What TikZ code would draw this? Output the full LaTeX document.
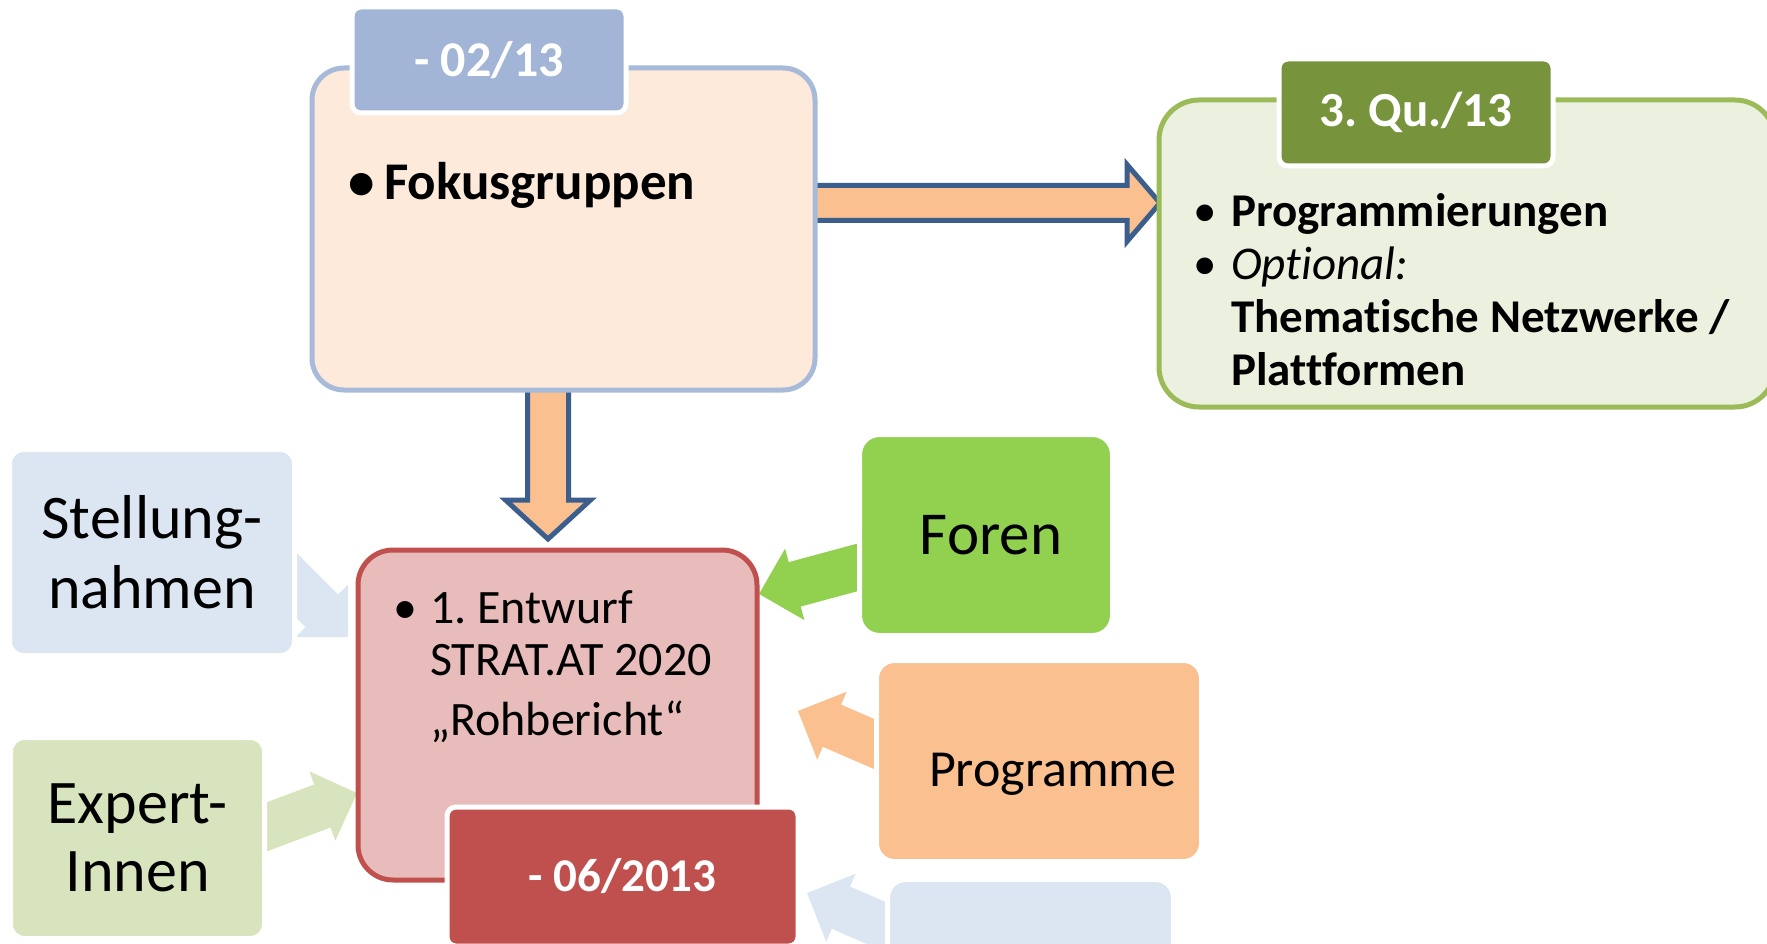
\documentclass[tikz,border=0pt]{standalone}
\usepackage{fontspec}
\setmainfont{Carlito}[Ligatures={TeX,NoCommon}]
\usetikzlibrary{calc,backgrounds}
\frenchspacing

\definecolor{fokusfill}{HTML}{FDEADA}
\definecolor{fokusline}{HTML}{A7BAD9}
\definecolor{tabblue}{HTML}{A2B5D6}
\definecolor{progfill}{HTML}{EBF1DE}
\definecolor{progline}{HTML}{9BBB59}
\definecolor{tabgreen}{HTML}{77933C}
\definecolor{draftfill}{HTML}{E8BCBB}
\definecolor{draftline}{HTML}{C0504D}
\definecolor{lightblue}{HTML}{DCE6F2}
\definecolor{lightgreen}{HTML}{D7E4BD}
\definecolor{forengreen}{HTML}{92D050}
\definecolor{peach}{HTML}{FAC090}
\definecolor{arrline}{HTML}{3B5E8C}

\newcommand{\blockarrow}[6][]{%
	\coordinate (ba) at ($(#3)!#6!(#2)$);
	\path[#1] ($(#2)!#4!90:(#3)$) -- ($(ba)!#4!90:(#3)$) -- ($(ba)!#5!90:(#3)$) -- (#3)
		-- ($(ba)!#5!-90:(#3)$) -- ($(ba)!#4!-90:(#3)$) -- ($(#2)!#4!-90:(#3)$) -- cycle;
}

\begin{document}
\begin{tikzpicture}[x=1pt,y=-1pt]
	\tikzstyle{bigbox}=[line width=5pt, outer sep=0pt, inner sep=0pt]
	\tikzstyle{tabbox}=[draw=white, line width=5pt, rounded corners=9pt, outer sep=0pt, text=white]
	\tikzstyle{srcbox}=[draw=white, line width=5pt, outer sep=0pt, inner sep=0pt, align=center]
	\tikzstyle{inarrow}=[draw=none]
	\tikzstyle{outarrow}=[fill=peach, draw=arrline, line width=5pt, line join=miter]
	\useasboundingbox (0,0) rectangle (1767,944);

	\node[bigbox, draw=fokusline, fill=fokusfill, rounded corners=32pt, minimum width=503pt, minimum height=322pt] (fokus) at (563.5,229) {};
	\node[tabbox, fill=tabblue, minimum width=274pt, minimum height=106pt, font=\bfseries\fontsize{50}{60}\selectfont] (fokustab) at (489,60) {- 02/13};
	\node[anchor=base west, inner sep=0pt, font=\bfseries\fontsize{53}{60}\selectfont] (fokustext) at (348,200) {\makebox[36pt][l]{\textbullet}Fokusgruppen};

	\node[bigbox, draw=progline, fill=progfill, rounded corners=40pt, minimum width=616pt, minimum height=307pt] (prog) at (1467,253.5) {};
	\node[tabbox, fill=tabgreen, minimum width=274pt, minimum height=107pt, font=\bfseries\fontsize{49}{60}\selectfont] (progtab) at (1416,112.5) {3. Qu./13};
	\node[anchor=base west, inner sep=0pt, font=\fontsize{47}{53}\selectfont] (progtext) at (1193,227) {%
		\begin{tabular}[t]{@{}p{38pt}@{}l@{}}
			\textbullet & \textbf{Programmierungen}\\
			\textbullet & \textit{Optional:}\\
			& \textbf{Thematische Netzwerke /}\\
			& \textbf{Plattformen}
		\end{tabular}};

	\node[srcbox, fill=lightblue, rounded corners=14pt, minimum width=285pt, minimum height=206pt, font=\fontsize{62}{70}\selectfont] (stell) at (152,552.5) {Stellung-\\nahmen};
	\node[srcbox, fill=lightgreen, rounded corners=14pt, minimum width=254pt, minimum height=201pt, font=\fontsize{62}{68}\selectfont] (expert) at (137.5,838) {Expert-\\Innen};

	\node[bigbox, draw=draftline, fill=draftfill, rounded corners=35pt, minimum width=399pt, minimum height=330pt] (draft) at (557.5,715) {};
	\node[anchor=base west, inner sep=0pt, font=\fontsize{48}{52}\selectfont] (drafttext) at (393,623) {%
		\begin{tabular}[t]{@{}p{37pt}@{}l@{}}
			\textbullet & 1. Entwurf\\
			& STRAT.AT 2020\\[8pt]
			& „Rohbericht“
		\end{tabular}};
	\node[tabbox, fill=draftline, minimum width=351pt, minimum height=139pt, font=\bfseries\fontsize{47}{60}\selectfont] (drafttab) at (622.5,876.5) {- 06/2013};

	\node[srcbox, fill=forengreen, rounded corners=20pt, minimum width=253pt, minimum height=201pt, font=\fontsize{61}{70}\selectfont] (foren) at (986,535) {\hspace*{10pt}Foren};
	\node[srcbox, fill=peach, rounded corners=18pt, minimum width=325pt, minimum height=201pt] (progr) at (1039,761) {};
	\node[inner sep=0pt, font=\fontsize{52}{60}\selectfont] (progrlbl) at ($(progr.center)+(13.5,13.5)$) {Programme};
	\node[srcbox, fill=lightblue, rounded corners=18pt, minimum width=286pt, minimum height=123pt] (extra) at (1030.5,941) {};

	\begin{pgfonlayer}{background}
		\coordinate (rightA) at ($(fokus.east)+(-10,-26)$);
		\coordinate (rightB) at ($(prog.west)+(1,-50.5)$);
		\blockarrow[outarrow]{rightA}{rightB}{17.5pt}{38.5pt}{33pt}
		\coordinate (downA) at ($(fokus.south)+(-15.5,-10)$);
		\coordinate (downB) at ($(draft.north)+(-9.5,-11)$);
		\blockarrow[outarrow]{downA}{downB}{20.5pt}{42.5pt}{39pt}
		\coordinate (stellA) at ($(stell.east)+(-32.5,-1.5)$);
		\coordinate (stellB) at ($(draft.west)+(-10,-78)$);
		\blockarrow[inarrow, fill=lightblue]{stellA}{stellB}{23pt}{37pt}{37pt}
		\coordinate (expertA) at ($(expert.east)+(-11.5,-6)$);
		\coordinate (expertB) at ($(draft.west)+(-1,78)$);
		\blockarrow[inarrow, fill=lightgreen]{expertA}{expertB}{23pt}{37pt}{37pt}
		\coordinate (forenA) at ($(foren.west)+(10.5,29)$);
		\coordinate (forenB) at ($(draft.east)+(2,-121)$);
		\blockarrow[inarrow, fill=forengreen]{forenA}{forenB}{23pt}{37pt}{37pt}
		\coordinate (progrA) at ($(progr.west)+(11.5,-11)$);
		\coordinate (progrB) at ($(draft.east)+(41,-4)$);
		\blockarrow[inarrow, fill=peach]{progrA}{progrB}{23pt}{37pt}{37pt}
		\coordinate (extraA) at ($(extra.west)+(9.5,-9)$);
		\coordinate (extraB) at ($(draft.east)+(50,178)$);
		\blockarrow[inarrow, fill=lightblue]{extraA}{extraB}{23pt}{37pt}{37pt}
	\end{pgfonlayer}
\end{tikzpicture}
\end{document}
